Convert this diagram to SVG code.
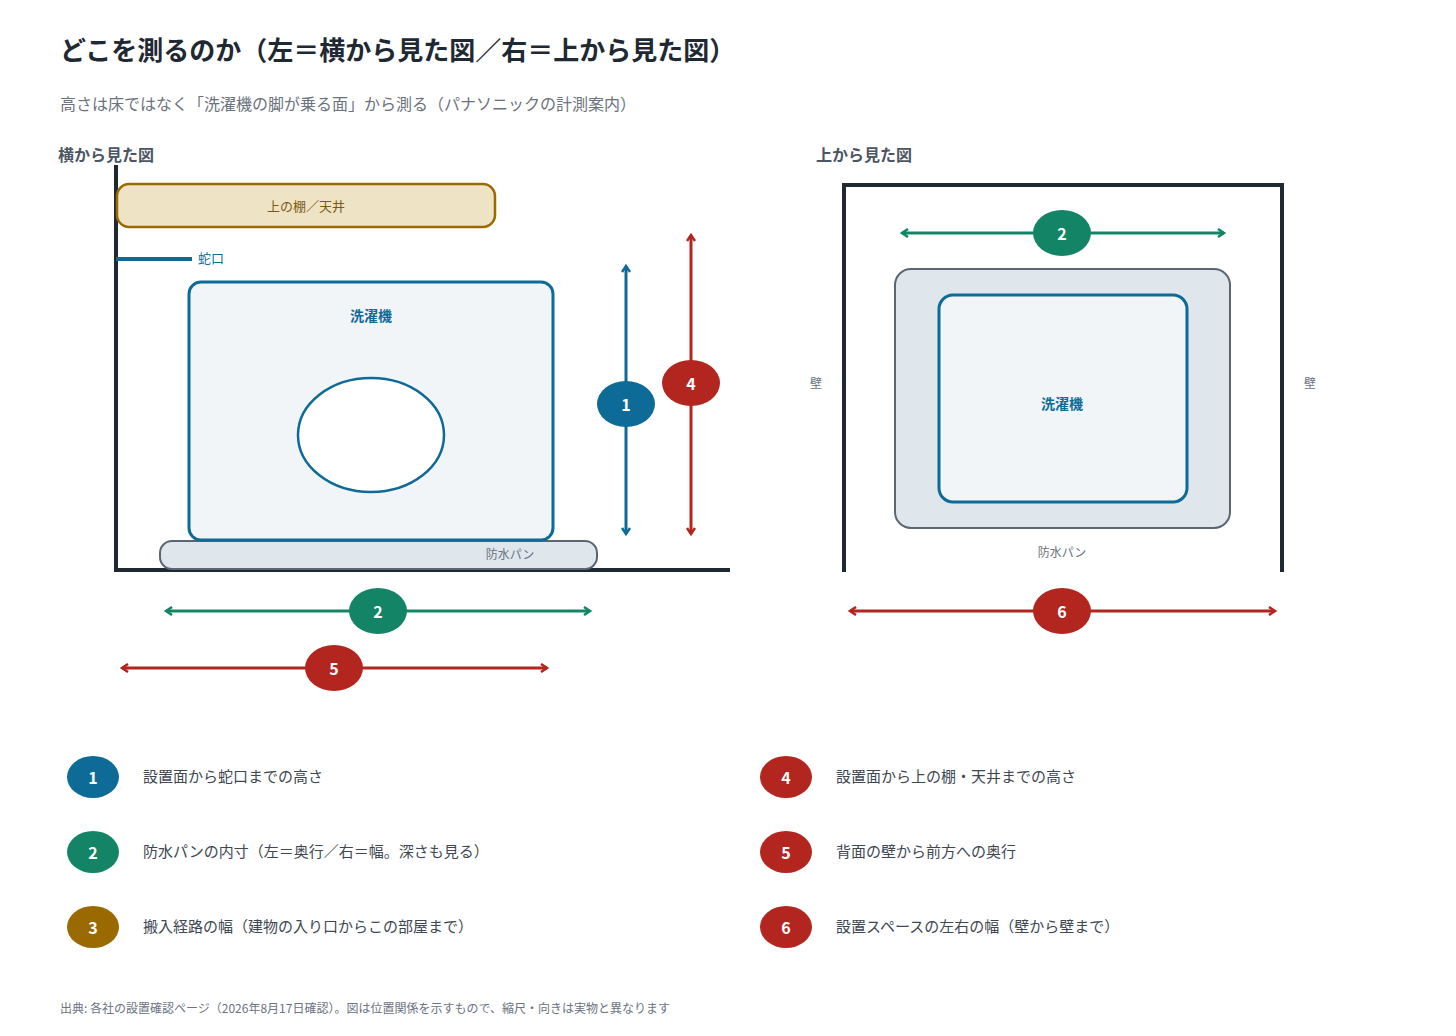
<svg xmlns="http://www.w3.org/2000/svg" width="1456" height="1036" viewBox="0 0 1456 1036">
<style>
text{font-family:"Noto Sans CJK JP","Noto Sans",sans-serif}
.t{font-size:26px;font-weight:700;fill:#1f2933}
.sub{font-size:16px;fill:#6b7280}
.h{font-size:16px;font-weight:700;fill:#4b5563}
.lg{font-size:15px;fill:#3e4752}
.n{font-size:16px;font-weight:700;fill:#fff;text-anchor:middle;dominant-baseline:central}
.wall{fill:none;stroke:#1f2933;stroke-width:4}
.mach{fill:#f1f5f8;stroke:#0e6a96;stroke-width:3}
.pan{fill:#dfe7ed;stroke:#5b6672;stroke-width:2}
.ml{font-size:14px;font-weight:700;fill:#0e6a96;text-anchor:middle}
.sm{font-size:12px;fill:#6b7280}
.b{stroke:#0e6a96;stroke-width:3;fill:none}
.g{stroke:#138566;stroke-width:3;fill:none}
.r{stroke:#b2261f;stroke-width:3;fill:none}
</style>
<defs>
<marker id="mb" markerWidth="10" markerHeight="10" refX="7" refY="5" orient="auto-start-reverse" markerUnits="userSpaceOnUse"><path d="M1,1 L7,5 L1,9" fill="none" stroke="#0e6a96" stroke-width="2.5"/></marker>
<marker id="mg" markerWidth="10" markerHeight="10" refX="7" refY="5" orient="auto-start-reverse" markerUnits="userSpaceOnUse"><path d="M1,1 L7,5 L1,9" fill="none" stroke="#138566" stroke-width="2.5"/></marker>
<marker id="mr" markerWidth="10" markerHeight="10" refX="7" refY="5" orient="auto-start-reverse" markerUnits="userSpaceOnUse"><path d="M1,1 L7,5 L1,9" fill="none" stroke="#b2261f" stroke-width="2.5"/></marker>
</defs>
<rect width="1456" height="1036" fill="#fff"/>
<text class="t" x="60" y="60">どこを測るのか（左＝横から見た図／右＝上から見た図）</text>
<text class="sub" x="60" y="110">高さは床ではなく「洗濯機の脚が乗る面」から測る（パナソニックの計測案内）</text>
<text class="h" x="58" y="161">横から見た図</text>
<text class="h" x="816" y="161">上から見た図</text>

<g id="side-view">
<path class="wall" d="M116,165 V570 H730"/>
<g id="shelf"><rect x="117" y="184" width="378" height="43" rx="12" fill="#efe3c6" stroke="#9a6a00" stroke-width="2.5"/><text x="306" y="211" font-size="13" fill="#7a5a10" text-anchor="middle">上の棚／天井</text></g>
<g id="faucet"><line x1="116" y1="259" x2="192" y2="259" stroke="#0e6a96" stroke-width="4"/><text x="198" y="263" font-size="13" fill="#0e6a96">蛇口</text></g>
<g id="pan-side"><rect class="pan" x="160" y="541" width="437" height="28" rx="12"/><text class="sm" x="510" y="559" text-anchor="middle">防水パン</text></g>
<g id="washer-side"><rect class="mach" x="189" y="282" width="364" height="258" rx="12"/><text class="ml" x="371" y="321">洗濯機</text><ellipse cx="371" cy="435" rx="73" ry="57" fill="#fff" stroke="#0e6a96" stroke-width="2.5"/></g>
</g>

<g id="top-view">
<path class="wall" d="M844,572 V185 H1282 V572"/>
<text class="sm" x="816" y="388" text-anchor="middle">壁</text>
<text class="sm" x="1310" y="388" text-anchor="middle">壁</text>
<g id="pan-top"><rect class="pan" x="895" y="269" width="335" height="259" rx="16"/><text class="sm" x="1062" y="557" text-anchor="middle">防水パン</text></g>
<g id="washer-top"><rect class="mach" x="939" y="295" width="248" height="207" rx="14"/><text class="ml" x="1062" y="409">洗濯機</text></g>
</g>

<g id="connectors">
<line class="b" x1="626" y1="266" x2="626" y2="534" marker-start="url(#mb)" marker-end="url(#mb)"/>
<line class="r" x1="691" y1="235" x2="691" y2="534" marker-start="url(#mr)" marker-end="url(#mr)"/>
<line class="g" x1="166" y1="611" x2="590" y2="611" marker-start="url(#mg)" marker-end="url(#mg)"/>
<line class="r" x1="122" y1="668" x2="547" y2="668" marker-start="url(#mr)" marker-end="url(#mr)"/>
<line class="g" x1="902" y1="233" x2="1224" y2="233" marker-start="url(#mg)" marker-end="url(#mg)"/>
<line class="r" x1="850" y1="611" x2="1275" y2="611" marker-start="url(#mr)" marker-end="url(#mr)"/>
</g>

<g id="badges">
<ellipse cx="626" cy="404" rx="29" ry="23" fill="#0e6a96"/><text class="n" x="626" y="404">1</text>
<ellipse cx="691" cy="383" rx="29" ry="23" fill="#b2261f"/><text class="n" x="691" y="383">4</text>
<ellipse cx="378" cy="611" rx="29" ry="23" fill="#138566"/><text class="n" x="378" y="611">2</text>
<ellipse cx="334" cy="668" rx="29" ry="23" fill="#b2261f"/><text class="n" x="334" y="668">5</text>
<ellipse cx="1062" cy="233" rx="29" ry="23" fill="#138566"/><text class="n" x="1062" y="233">2</text>
<ellipse cx="1062" cy="611" rx="29" ry="23" fill="#b2261f"/><text class="n" x="1062" y="611">6</text>
</g>

<g id="legend">
<ellipse cx="93" cy="777" rx="26" ry="21" fill="#0e6a96"/><text class="n" x="93" y="777">1</text><text class="lg" x="143" y="782">設置面から蛇口までの高さ</text>
<ellipse cx="93" cy="852" rx="26" ry="21" fill="#138566"/><text class="n" x="93" y="852">2</text><text class="lg" x="143" y="857">防水パンの内寸（左＝奥行／右＝幅。深さも見る）</text>
<ellipse cx="93" cy="927" rx="26" ry="21" fill="#9a6a00"/><text class="n" x="93" y="927">3</text><text class="lg" x="143" y="932">搬入経路の幅（建物の入り口からこの部屋まで）</text>
<ellipse cx="786" cy="777" rx="26" ry="21" fill="#b2261f"/><text class="n" x="786" y="777">4</text><text class="lg" x="836" y="782">設置面から上の棚・天井までの高さ</text>
<ellipse cx="786" cy="852" rx="26" ry="21" fill="#b2261f"/><text class="n" x="786" y="852">5</text><text class="lg" x="836" y="857">背面の壁から前方への奥行</text>
<ellipse cx="786" cy="927" rx="26" ry="21" fill="#b2261f"/><text class="n" x="786" y="927">6</text><text class="lg" x="836" y="932">設置スペースの左右の幅（壁から壁まで）</text>
</g>
<text x="60" y="1013" font-size="12" fill="#6b7280">出典: 各社の設置確認ページ（2026年8月17日確認）。図は位置関係を示すもので、縮尺・向きは実物と異なります</text>
</svg>
